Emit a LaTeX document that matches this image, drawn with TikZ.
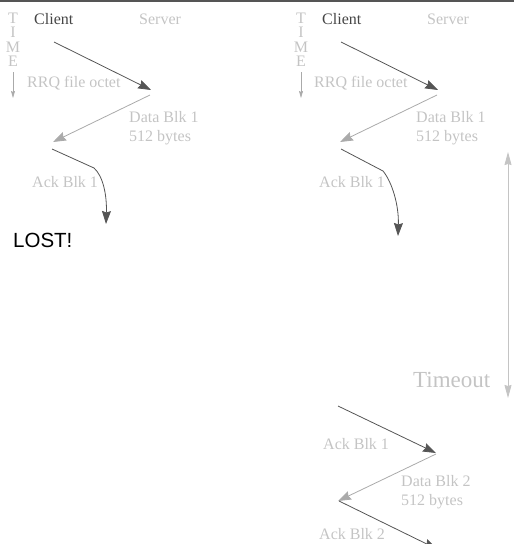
\documentclass[tikz,border=0pt]{standalone}
\usepackage{fontspec}
\setmainfont{Liberation Serif}
\newfontfamily\lostfont{Liberation Sans}
\usetikzlibrary{arrows.meta}
\definecolor{darkline}{HTML}{555555}
\definecolor{lightline}{HTML}{AAAAAA}
\definecolor{paletext}{HTML}{C4C4C4}
\definecolor{clienttext}{HTML}{454545}
\tikzset{
  lbl/.style={inner sep=0pt, anchor=base west, text=paletext, font=\fontsize{16}{19}\selectfont},
  timeletter/.style={inner sep=0pt, anchor=base, text=paletext, font=\fontsize{16}{16}\selectfont},
  darkmsg/.style={draw=darkline, line width=0.8pt, -{Stealth[length=13pt,width=9pt,inset=1.5pt]}},
  lightmsg/.style={draw=lightline, line width=0.8pt, -{Stealth[length=13pt,width=9pt,inset=1.5pt]}},
  timearrow/.style={draw=lightline, line width=0.8pt, -{Stealth[length=7pt,width=4pt,inset=1pt]}},
}
\begin{document}
\begin{tikzpicture}[x=1pt,y=-1pt]
\useasboundingbox (0,0) rectangle (514,544);
% rule along the top edge
\draw[darkline, line width=1.5pt] (0,1) -- (514,1);

% ---------- lost acknowledgement (left) ----------
\node[timeletter] (lT) at (13,23) {T};
\node[timeletter] (lI) at (13,37) {I};
\node[timeletter] (lM) at (13,52) {M};
\node[timeletter] (lE) at (13,66) {E};
\coordinate (lts) at (13,72);
\coordinate (lte) at (13,98);
\draw[timearrow] (lts) -- (lte);
\node[lbl, text=clienttext] (lclient) at (34,24) {Client};
\node[lbl] (lserver) at (139,24) {Server};
\node[lbl] (lrrq) at (27,87) {RRQ file octet};
\node[lbl] (ldata) at (129,122) {Data Blk 1};
\node[lbl] (lbytes) at (129,141) {512 bytes};
\node[lbl] (lack) at (32,187) {Ack Blk 1};
\node[inner sep=0pt, anchor=base west, font=\lostfont\fontsize{20.5}{24}\selectfont] (lost) at (13,247) {LOST!};

\coordinate (la1) at (54,42);
\coordinate (la2) at (151,90);
\coordinate (la3) at (150,95);
\coordinate (la4) at (53,142);
\coordinate (la5) at (52,149);
\coordinate (lbend) at (94,168);
\coordinate (lend) at (106,224);
\draw[darkmsg] (la1) -- (la2);
\draw[lightmsg] (la3) -- (la4);
\draw[darkmsg] (la5) -- (lbend) .. controls (103,176) and (107,195) .. (lend);

% ---------- retransmission after timeout (right) ----------
\node[timeletter] (rT) at (301,23) {T};
\node[timeletter] (rI) at (301,37) {I};
\node[timeletter] (rM) at (301,52) {M};
\node[timeletter] (rE) at (301,66) {E};
\coordinate (rts) at (301,72);
\coordinate (rte) at (301,98);
\draw[timearrow] (rts) -- (rte);
\node[lbl, text=clienttext] (rclient) at (322,24) {Client};
\node[lbl] (rserver) at (427,24) {Server};
\node[lbl] (rrrq) at (314,87) {RRQ file octet};
\node[lbl] (rdata) at (416,122) {Data Blk 1};
\node[lbl] (rbytes) at (416,141) {512 bytes};
\node[lbl] (rack) at (319,187) {Ack Blk 1};

\coordinate (ra1) at (341,42);
\coordinate (ra2) at (438,90);
\coordinate (ra3) at (437,95);
\coordinate (ra4) at (340,142);
\coordinate (ra5) at (341,149);
\coordinate (rbend) at (383,171);
\coordinate (rend) at (398,236);
\draw[darkmsg] (ra1) -- (ra2);
\draw[lightmsg] (ra3) -- (ra4);
\draw[darkmsg] (ra5) -- (rbend) .. controls (392,182) and (399,205) .. (rend);

% timeout interval
\coordinate (tot) at (508,152);
\coordinate (tob) at (508,398);
\draw[draw=paletext, line width=0.8pt, {Stealth[length=13pt,width=7pt,inset=1pt]}-{Stealth[length=13pt,width=7pt,inset=1pt]}] (tot) -- (tob);
\node[lbl, font=\fontsize{23}{26}\selectfont] (timeout) at (413,387) {Timeout};

% resent acknowledgement and next block
\node[lbl] (rack1) at (323,449) {Ack Blk 1};
\node[lbl] (rdata2) at (401,486) {Data Blk 2};
\node[lbl] (rbytes2) at (401,505) {512 bytes};
\node[lbl] (rack2) at (319,539) {Ack Blk 2};
\coordinate (rb1) at (338,406);
\coordinate (rb2) at (436,453);
\coordinate (rb3) at (436,454);
\coordinate (rb4) at (338,501);
\coordinate (rb5) at (339,501);
\coordinate (rb6) at (437,549);
\draw[darkmsg] (rb1) -- (rb2);
\draw[lightmsg] (rb3) -- (rb4);
\draw[darkmsg] (rb5) -- (rb6);
\end{tikzpicture}
\end{document}
